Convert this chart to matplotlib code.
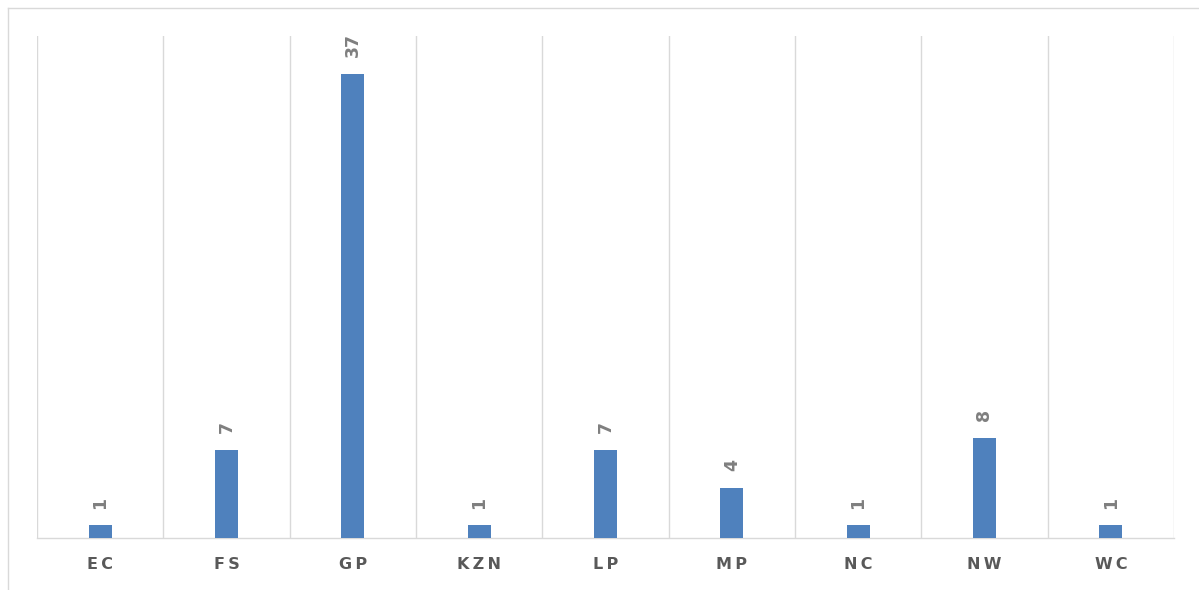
import matplotlib
matplotlib.use("Agg")
import matplotlib.pyplot as plt
from matplotlib.lines import Line2D
import numpy as np

categories = ["EC", "FS", "GP", "KZN", "LP", "MP", "NC", "NW", "WC"]
values = [1, 7, 37, 1, 7, 4, 1, 8, 1]

bar_color = "#4f81bd"
grid_color = "#d9d9d9"
label_color = "#7f7f7f"
tick_color = "#595959"

fig = plt.figure(figsize=(11.99, 5.90), dpi=100)
# outer chart border (only top and left visible in the crop)
fig.lines.append(Line2D([7.5/1199, 1.0], [1 - 7.5/590, 1 - 7.5/590], transform=fig.transFigure,
                        color=grid_color, linewidth=1.0))
fig.lines.append(Line2D([7.5/1199, 7.5/1199], [0.0, 1 - 7.5/590], transform=fig.transFigure,
                        color=grid_color, linewidth=1.0))

ax = fig.add_axes([37/1199, 52/590, 1137/1199, 502/590])

x = np.arange(len(categories))
ax.bar(x, values, width=0.18, color=bar_color, zorder=3)

ax.set_xlim(-0.5, len(categories) - 0.5)
ax.set_ylim(0, 40)

for b in np.arange(-0.5, len(categories) + 0.5, 1.0):
    ax.axvline(b, color=grid_color, linewidth=1.0, zorder=1)

for s in ["top", "right", "left"]:
    ax.spines[s].set_visible(False)
ax.spines["bottom"].set_color(grid_color)
ax.spines["bottom"].set_linewidth(1.0)
ax.set_yticks([])

ax.set_xticks(x)
ax.set_xticklabels(["\u2009".join(c) for c in categories], fontsize=11.5, fontweight="bold",
                   color=tick_color)
ax.tick_params(axis="x", length=0, pad=14)

for xi, v in zip(x, values):
    ax.annotate(str(v), (xi, v), xytext=(0, 12), textcoords="offset points",
                rotation=90, ha="center", va="bottom", fontsize=12.5,
                fontweight="bold", color=label_color)

fig.savefig("out.png", dpi=100)
